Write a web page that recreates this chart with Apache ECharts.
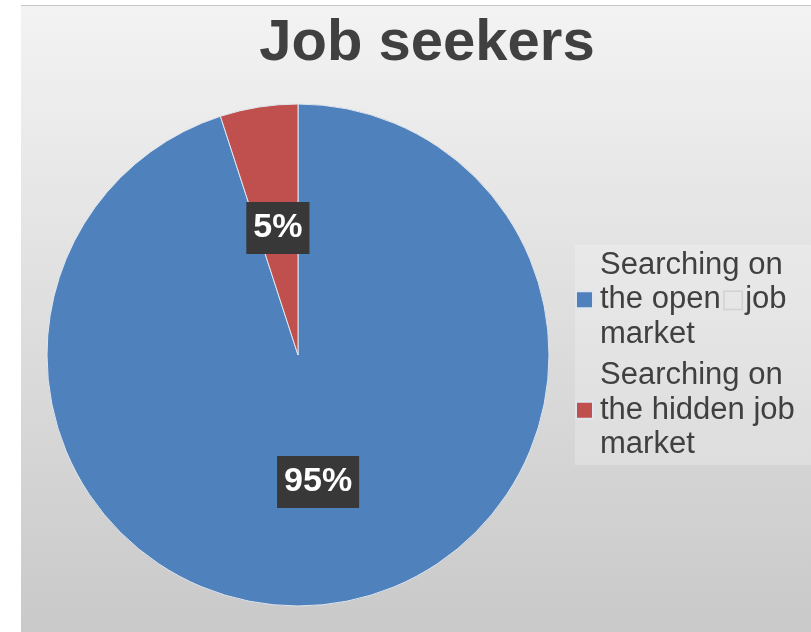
<!DOCTYPE html>
<html>
<head>
<meta charset="utf-8">
<script src="https://cdn.jsdelivr.net/npm/echarts@6/dist/echarts.min.js"></script>
<style>
html,body{margin:0;padding:0;background:#ffffff;}
#chart{width:811px;height:632px;}
</style>
</head>
<body>
<div id="chart"></div>
<script>
var titleText = 'Job seekers';
var categories = ['Searching on the open job market', 'Searching on the hidden job market'];
var legendLines = [
  ['Searching on', 'the open{box|\u25A1}job', 'market'],
  ['Searching on', 'the hidden job', 'market']
];
var values = [95, 5];
var colors = ['#4f81bd', '#c0504d'];

var chart = echarts.init(document.getElementById('chart'));
var legendMap = {};
categories.forEach(function (c, i) { legendMap[c] = legendLines[i].join('\n'); });

var option = {
  animation: false,
  graphic: [
    {
      type: 'rect', z: -10, silent: true,
      shape: { x: 21, y: 6, width: 790, height: 626 },
      style: {
        fill: new echarts.graphic.LinearGradient(0, 0, 0, 1, [
          { offset: 0, color: '#f3f3f3' },
          { offset: 1, color: '#c9c9c9' }
        ])
      }
    },
    {
      type: 'line', z: -9, silent: true,
      shape: { x1: 21, y1: 5.5, x2: 811, y2: 5.5 },
      style: { stroke: '#c8c8c8', lineWidth: 1 }
    },
    {
      type: 'rect', z: -9, silent: true,
      shape: { x: 575, y: 245, width: 236, height: 220 },
      style: { fill: 'rgba(255,255,255,0.22)' }
    }
  ],
  title: {
    text: titleText,
    left: 422,
    textAlign: 'center',
    top: 10,
    textStyle: {
      fontFamily: 'Liberation Sans, Arial, sans-serif',
      fontSize: 58,
      fontWeight: 'bold',
      color: '#404040'
    }
  },
  legend: {
    orient: 'vertical',
    left: 570,
    top: 243,
    padding: 5,
    itemGap: 7,
    itemWidth: 17,
    itemHeight: 17,
    icon: 'rect',
    data: categories,
    formatter: function (name) { return legendMap[name]; },
    textStyle: {
      fontFamily: 'Liberation Sans, Arial, sans-serif',
      fontSize: 31,
      lineHeight: 34.5,
      color: '#404040',
      padding: [0, 0, 0, 2],
      rich: {
        box: {
          fontFamily: 'DejaVu Sans',
          fontSize: 26,
          lineHeight: 34.5,
          color: '#d2d2d2'
        }
      }
    }
  },
  series: [{
    type: 'pie',
    center: [298, 355],
    radius: [0, 251],
    startAngle: 90,
    clockwise: true,
    color: colors,
    itemStyle: { borderColor: '#dfe6ee', borderWidth: 1 },
    label: {
      show: true,
      position: 'inside',
      formatter: '{c}%',
      fontFamily: 'Liberation Sans, Arial, sans-serif',
      fontSize: 34,
      fontWeight: 'bold',
      color: '#ffffff',
      backgroundColor: '#383838',
      padding: [10, 7, 8, 7]
    },
    labelLine: { show: false },
    emphasis: { disabled: true },
    data: categories.map(function (c, i) { return { name: c, value: values[i] }; })
  }]
};
chart.setOption(option);
</script>
</body>
</html>
